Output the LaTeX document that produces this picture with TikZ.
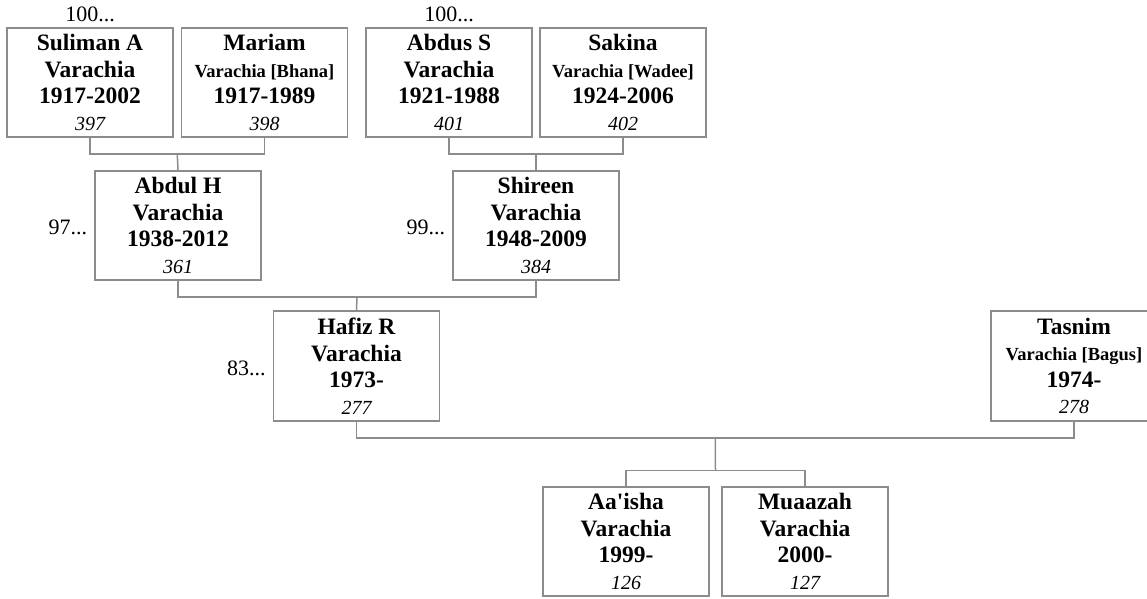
\documentclass[tikz,border=0pt]{standalone}
\usepackage{fontspec}
\setmainfont{Liberation Serif}[Ligatures=TeXOff]
\usepackage{tikz}
\usetikzlibrary{positioning,calc}
\definecolor{frame}{HTML}{8C8C8C}
\definecolor{wire}{HTML}{8C8C8C}
\newcommand{\maiden}[1]{{\fontsize{18.5}{18.5}\selectfont #1}}
\newcommand{\rid}[1]{{\fontsize{20}{20}\selectfont\mdseries\itshape #1}}

\begin{document}
\begin{tikzpicture}[x=1pt, y=-1pt,
  p/.style={draw=frame,line width=1.5pt,minimum width=166pt,minimum height=109pt,inner sep=0pt,align=center,
    font=\fontsize{23.5}{26.5}\selectfont\bfseries},
  l/.style={inner sep=0pt,font=\fontsize{22}{22}\selectfont},
  c/.style={draw=wire,line width=1.5pt}]
  \useasboundingbox (0,0) rectangle (1147,598);
  \node[p] (sul) at (90,82.5) {Suliman A\\Varachia\\1917-2002\\\rid{397}};
  \node[p] (mar) at (264.5,82.5) {Mariam\\\maiden{Varachia [Bhana]}\\1917-1989\\\rid{398}};
  \node[p] (abd) at (449,82.5) {Abdus S\\Varachia\\1921-1988\\\rid{401}};
  \node[p] (sak) at (623,82.5) {Sakina\\\maiden{Varachia [Wadee]}\\1924-2006\\\rid{402}};
  \node[p] (abh) at (178,225.5) {Abdul H\\Varachia\\1938-2012\\\rid{361}};
  \node[p] (shi) at (536,225.5) {Shireen\\Varachia\\1948-2009\\\rid{384}};
  \node[p,minimum height=110pt] (haf) at (356.5,366) {Hafiz R\\Varachia\\1973-\\\rid{277}};
  \node[p,minimum height=110pt] (tas) at (1074,366) {Tasnim\\\maiden{Varachia [Bagus]}\\1974-\\\rid{278}};
  \node[p] (aai) at (626,541.5) {Aa'isha\\Varachia\\1999-\\\rid{126}};
  \node[p] (mua) at (805,541.5) {Muaazah\\Varachia\\2000-\\\rid{127}};
  \node[l,above=5pt of sul] (sulup) {100...};
  \node[l,above=5pt of abd] (abdup) {100...};
  \node[l,left=7pt of abh,yshift=-2pt] (abhup) {97...};
  \node[l,left=7pt of shi,yshift=-2pt] (shiup) {99...};
  \node[l,left=7pt of haf,yshift=-2pt] (hafup) {83...};
  \coordinate (j1) at ($(sul.south)!.5!(mar.south)+(0,16)$);
  \coordinate (j2) at ($(abd.south)!.5!(sak.south)+(0,16)$);
  \coordinate (j3) at ($(abh.south)!.5!(shi.south)+(0,16)$);
  \coordinate (j4) at ($(haf.south)!.5!(tas.south)+(0,16)$);
  \coordinate (j5) at ($(aai.north)!.5!(mua.north)+(0,-16)$);
  \draw[c] (sul.south) |- (j1) -| (mar.south);
  \draw[c] (j1) -- (abh.north);
  \draw[c] (abd.south) |- (j2) -| (sak.south);
  \draw[c] (j2) -- (shi.north);
  \draw[c] (abh.south) |- (j3) -| (shi.south);
  \draw[c] (j3) -- (haf.north);
  \draw[c] (haf.south) |- (j4) -| (tas.south);
  \draw[c] (aai.north) |- (j5) -| (mua.north);
  \draw[c] (j4) -- (j5);
\end{tikzpicture}
\end{document}
